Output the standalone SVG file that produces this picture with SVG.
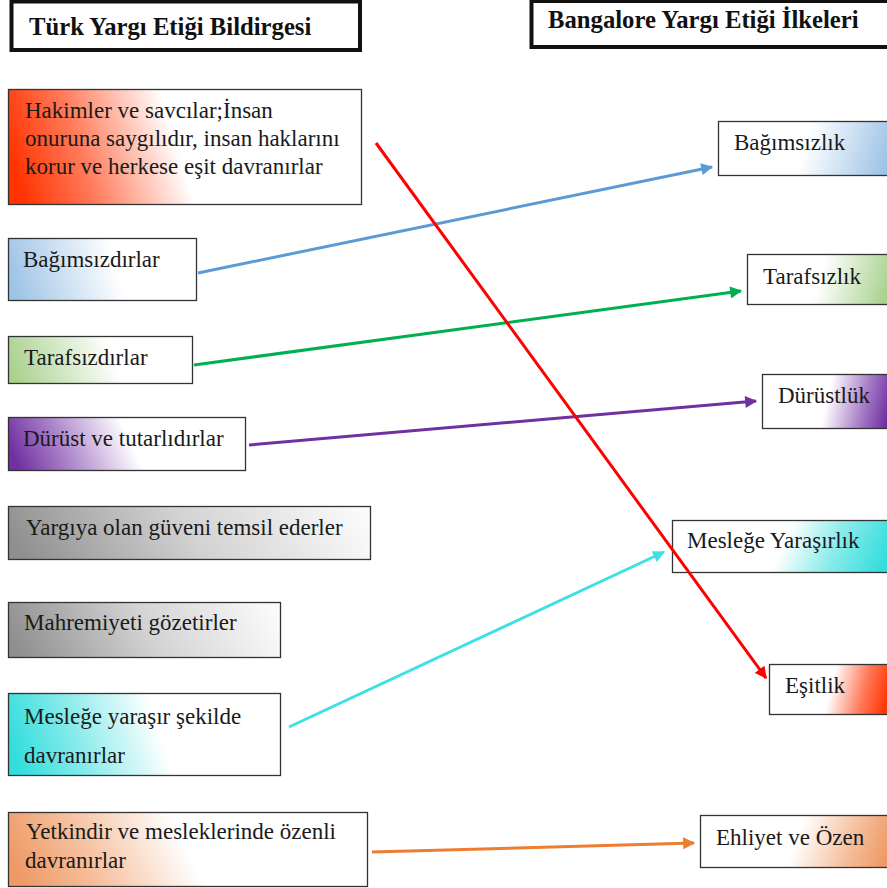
<svg xmlns="http://www.w3.org/2000/svg" width="887" height="888" viewBox="0 0 887 888">
<style>
.t{font-family:'Liberation Serif','Times New Roman',serif;font-size:23px;fill:#1a1a1a}
.h{font-family:'Liberation Serif','Times New Roman',serif;font-size:24.7px;font-weight:bold;fill:#111}
.b{stroke:#333;stroke-width:1.3}
.hb{fill:#fff;stroke:#111;stroke-width:4}
.c{fill:none;stroke-width:3}
</style>
<defs>
<linearGradient id="gRedL" x1="0" y1="0.55" x2="1" y2="0.45"><stop offset="0" stop-color="#FF3300"/><stop offset="0.2" stop-color="#FF7A5A"/><stop offset="0.48" stop-color="#fff"/></linearGradient>
<linearGradient id="gBlueL" x1="0" y1="0.55" x2="1" y2="0.45"><stop offset="0" stop-color="#9DC3E6"/><stop offset="0.58" stop-color="#fff"/></linearGradient>
<linearGradient id="gGreenL" x1="0" y1="0.55" x2="1" y2="0.45"><stop offset="0" stop-color="#A9D18E"/><stop offset="0.58" stop-color="#fff"/></linearGradient>
<linearGradient id="gPurpleL" x1="0" y1="0.55" x2="1" y2="0.45"><stop offset="0" stop-color="#7030A0"/><stop offset="0.2" stop-color="#A57BC6"/><stop offset="0.52" stop-color="#fff"/></linearGradient>
<linearGradient id="gGray" x1="0" y1="0.55" x2="1" y2="0.45"><stop offset="0" stop-color="#8f8f8f"/><stop offset="0.5" stop-color="#d2d2d2"/><stop offset="1" stop-color="#fafafa"/></linearGradient>
<linearGradient id="gCyanL" x1="0" y1="0.55" x2="1" y2="0.45"><stop offset="0" stop-color="#33DDDD"/><stop offset="0.25" stop-color="#8AEBEB"/><stop offset="0.56" stop-color="#fff"/></linearGradient>
<linearGradient id="gOrangeL" x1="0" y1="0.55" x2="1" y2="0.45"><stop offset="0" stop-color="#EE9A66"/><stop offset="0.2" stop-color="#F5BE9B"/><stop offset="0.5" stop-color="#fff"/></linearGradient>
<linearGradient id="gBlueR" x1="1" y1="0.55" x2="0" y2="0.45"><stop offset="0" stop-color="#9DC3E6"/><stop offset="0.5" stop-color="#fff"/></linearGradient>
<linearGradient id="gGreenR" x1="1" y1="0.55" x2="0" y2="0.45"><stop offset="0" stop-color="#A9D18E"/><stop offset="0.5" stop-color="#fff"/></linearGradient>
<linearGradient id="gPurpleR" x1="1" y1="0.55" x2="0" y2="0.45"><stop offset="0" stop-color="#7030A0"/><stop offset="0.2" stop-color="#A57BC6"/><stop offset="0.5" stop-color="#fff"/></linearGradient>
<linearGradient id="gCyanR" x1="1" y1="0.55" x2="0" y2="0.45"><stop offset="0" stop-color="#33DDDD"/><stop offset="0.25" stop-color="#8AEBEB"/><stop offset="0.5" stop-color="#fff"/></linearGradient>
<linearGradient id="gRedR" x1="1" y1="0.55" x2="0" y2="0.45"><stop offset="0" stop-color="#FF3300"/><stop offset="0.22" stop-color="#FF7A5A"/><stop offset="0.5" stop-color="#fff"/></linearGradient>
<linearGradient id="gOrangeR" x1="1" y1="0.55" x2="0" y2="0.45"><stop offset="0" stop-color="#EE9A66"/><stop offset="0.2" stop-color="#F5BE9B"/><stop offset="0.5" stop-color="#fff"/></linearGradient>
<marker id="aBlue" viewBox="0 0 10 10" refX="9" refY="5" markerWidth="14" markerHeight="12" markerUnits="userSpaceOnUse" orient="auto"><path d="M0,0L10,5L0,10z" fill="#5B9BD5"/></marker>
<marker id="aGreen" viewBox="0 0 10 10" refX="9" refY="5" markerWidth="14" markerHeight="12" markerUnits="userSpaceOnUse" orient="auto"><path d="M0,0L10,5L0,10z" fill="#00B050"/></marker>
<marker id="aPurple" viewBox="0 0 10 10" refX="9" refY="5" markerWidth="14" markerHeight="12" markerUnits="userSpaceOnUse" orient="auto"><path d="M0,0L10,5L0,10z" fill="#7030A0"/></marker>
<marker id="aRed" viewBox="0 0 10 10" refX="9" refY="5" markerWidth="14" markerHeight="12" markerUnits="userSpaceOnUse" orient="auto"><path d="M0,0L10,5L0,10z" fill="#FF0000"/></marker>
<marker id="aCyan" viewBox="0 0 10 10" refX="9" refY="5" markerWidth="14" markerHeight="12" markerUnits="userSpaceOnUse" orient="auto"><path d="M0,0L10,5L0,10z" fill="#3EE0E6"/></marker>
<marker id="aOrange" viewBox="0 0 10 10" refX="9" refY="5" markerWidth="14" markerHeight="12" markerUnits="userSpaceOnUse" orient="auto"><path d="M0,0L10,5L0,10z" fill="#ED7D31"/></marker>
</defs>
<rect width="887" height="888" fill="#fff"/>
<g id="header-left"><rect class="hb" x="11.5" y="1.5" width="348.5" height="48.5"/><text class="h" x="29" y="35">Türk Yargı Etiği Bildirgesi</text></g>
<g id="header-right"><rect class="hb" x="531.5" y="1" width="360" height="46"/><text class="h" x="548" y="28">Bangalore Yargı Etiği İlkeleri</text></g>

<g id="l-hakimler"><rect class="b" x="8.5" y="89.5" width="353" height="115" fill="url(#gRedL)"/><text class="t" x="25" y="118">Hakimler ve savcılar;İnsan</text><text class="t" x="25" y="146">onuruna saygılıdır, insan haklarını</text><text class="t" x="25" y="174">korur ve herkese eşit davranırlar</text></g>
<g id="l-bagimsiz"><rect class="b" x="8.5" y="238.5" width="188" height="62" fill="url(#gBlueL)"/><text class="t" x="23" y="267">Bağımsızdırlar</text></g>
<g id="l-tarafsiz"><rect class="b" x="8.5" y="336.5" width="184" height="47" fill="url(#gGreenL)"/><text class="t" x="24" y="365">Tarafsızdırlar</text></g>
<g id="l-durust"><rect class="b" x="8.5" y="417.5" width="237" height="53" fill="url(#gPurpleL)"/><text class="t" x="23" y="446">Dürüst ve tutarlıdırlar</text></g>
<g id="l-guven"><rect class="b" x="8.5" y="506.5" width="362" height="53" fill="url(#gGray)"/><text class="t" x="26" y="535">Yargıya olan güveni temsil ederler</text></g>
<g id="l-mahrem"><rect class="b" x="8.5" y="602.5" width="272" height="55" fill="url(#gGray)"/><text class="t" x="24" y="630">Mahremiyeti gözetirler</text></g>
<g id="l-meslek"><rect class="b" x="8.5" y="693.5" width="272" height="82" fill="url(#gCyanL)"/><text class="t" x="24" y="724">Mesleğe yaraşır şekilde</text><text class="t" x="24" y="763">davranırlar</text></g>
<g id="l-yetkin"><rect class="b" x="8.5" y="812.5" width="359" height="74" fill="url(#gOrangeL)"/><text class="t" x="26" y="839">Yetkindir ve mesleklerinde özenli</text><text class="t" x="25" y="868">davranırlar</text></g>

<g id="r-bagimsiz"><rect class="b" x="718.5" y="121.5" width="172" height="54" fill="url(#gBlueR)"/><text class="t" x="734" y="150">Bağımsızlık</text></g>
<g id="r-tarafsiz"><rect class="b" x="747.5" y="254.5" width="143" height="50" fill="url(#gGreenR)"/><text class="t" x="763" y="284">Tarafsızlık</text></g>
<g id="r-durust"><rect class="b" x="762.5" y="374.5" width="128" height="54" fill="url(#gPurpleR)"/><text class="t" x="778" y="403">Dürüstlük</text></g>
<g id="r-meslek"><rect class="b" x="672.5" y="520.5" width="218" height="52" fill="url(#gCyanR)"/><text class="t" x="687" y="548">Mesleğe Yaraşırlık</text></g>
<g id="r-esitlik"><rect class="b" x="769.5" y="664.5" width="121" height="50" fill="url(#gRedR)"/><text class="t" x="785" y="693">Eşitlik</text></g>
<g id="r-ehliyet"><rect class="b" x="700.5" y="815.5" width="190" height="52" fill="url(#gOrangeR)"/><text class="t" x="716" y="845">Ehliyet ve Özen</text></g>

<g id="connectors">
<line class="c" x1="198" y1="273" x2="712" y2="167" stroke="#5B9BD5" marker-end="url(#aBlue)"/>
<line class="c" x1="194" y1="365" x2="741" y2="291" stroke="#00B050" marker-end="url(#aGreen)"/>
<line class="c" x1="249" y1="445" x2="756" y2="401" stroke="#7030A0" marker-end="url(#aPurple)"/>
<line class="c" x1="289" y1="727" x2="664" y2="552" stroke="#3EE0E6" marker-end="url(#aCyan)"/>
<line class="c" x1="372" y1="852" x2="694" y2="843" stroke="#ED7D31" marker-end="url(#aOrange)"/>
<line class="c" x1="376" y1="143" x2="766" y2="678" stroke="#FF0000" marker-end="url(#aRed)"/>
</g>
</svg>
